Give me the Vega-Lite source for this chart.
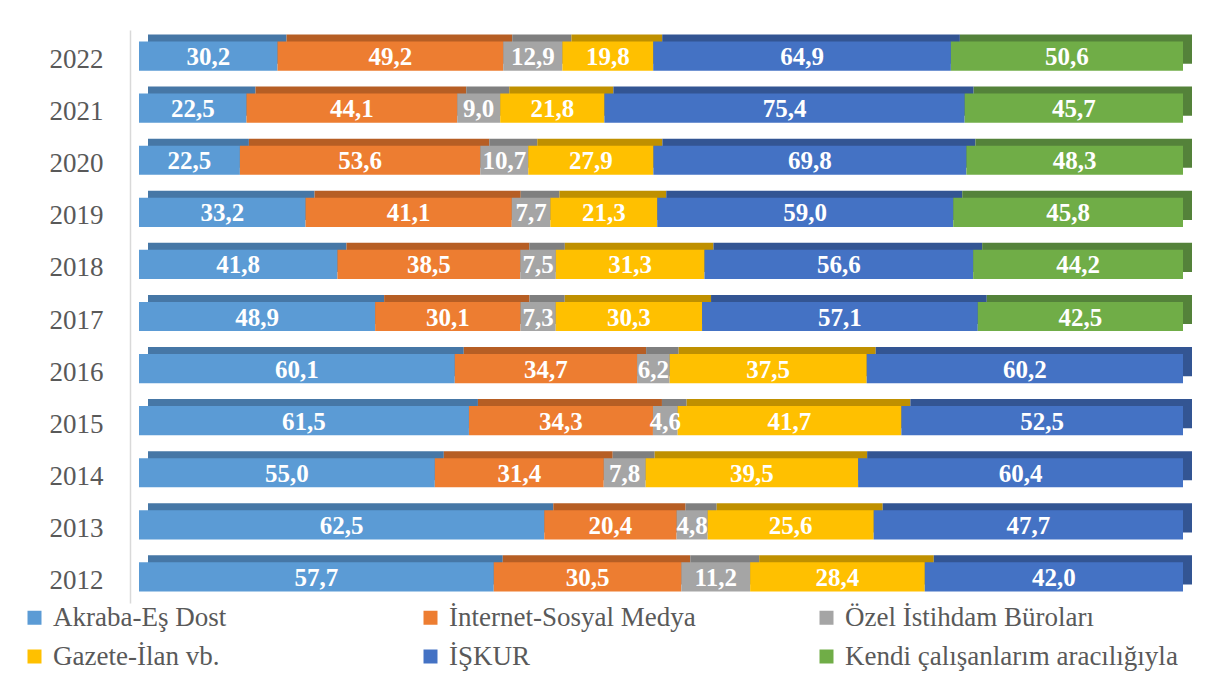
{
  "$schema": "https://vega.github.io/schema/vega-lite/v6.json",
  "width": 1044,
  "height": 573,
  "autosize": {"type": "none"},
  "padding": {"left": 139, "top": 30, "right": 40, "bottom": 70},
  "background": "white",
  "config": {"view": {"stroke": null}},
  "data": {"values": [
    {"year": "2022", "akraba": 30.2, "internet": 49.2, "ozel": 12.9, "gazete": 19.8, "iskur": 64.9, "kendi": 50.6},
    {"year": "2021", "akraba": 22.5, "internet": 44.1, "ozel": 9.0, "gazete": 21.8, "iskur": 75.4, "kendi": 45.7},
    {"year": "2020", "akraba": 22.5, "internet": 53.6, "ozel": 10.7, "gazete": 27.9, "iskur": 69.8, "kendi": 48.3},
    {"year": "2019", "akraba": 33.2, "internet": 41.1, "ozel": 7.7, "gazete": 21.3, "iskur": 59.0, "kendi": 45.8},
    {"year": "2018", "akraba": 41.8, "internet": 38.5, "ozel": 7.5, "gazete": 31.3, "iskur": 56.6, "kendi": 44.2},
    {"year": "2017", "akraba": 48.9, "internet": 30.1, "ozel": 7.3, "gazete": 30.3, "iskur": 57.1, "kendi": 42.5},
    {"year": "2016", "akraba": 60.1, "internet": 34.7, "ozel": 6.2, "gazete": 37.5, "iskur": 60.2},
    {"year": "2015", "akraba": 61.5, "internet": 34.3, "ozel": 4.6, "gazete": 41.7, "iskur": 52.5},
    {"year": "2014", "akraba": 55.0, "internet": 31.4, "ozel": 7.8, "gazete": 39.5, "iskur": 60.4},
    {"year": "2013", "akraba": 62.5, "internet": 20.4, "ozel": 4.8, "gazete": 25.6, "iskur": 47.7},
    {"year": "2012", "akraba": 57.7, "internet": 30.5, "ozel": 11.2, "gazete": 28.4, "iskur": 42.0}
  ]},
  "transform": [
    {"fold": ["akraba", "internet", "ozel", "gazete", "iskur", "kendi"], "as": ["key", "v"]},
    {"filter": "isValid(datum.v)"},
    {"calculate": "indexof(['akraba', 'internet', 'ozel', 'gazete', 'iskur', 'kendi'], datum.key)", "as": "k"},
    {"calculate": "['Akraba-Eş Dost', 'İnternet-Sosyal Medya', 'Özel İstihdam Büroları', 'Gazete-İlan vb.', 'İŞKUR', 'Kendi çalışanlarım aracılığıyla'][datum.k]", "as": "cat"},
    {"stack": "v", "groupby": ["year"], "sort": [{"field": "k", "order": "ascending"}], "offset": "normalize", "as": ["x0", "x1"]},
    {"calculate": "(datum.x0 + datum.x1) / 2", "as": "xm"},
    {"calculate": "replace(format(datum.v, '.1f'), '.', ',')", "as": "lbl"}
  ],
  "encoding": {
    "y": {
      "field": "year", "type": "ordinal", "sort": "descending",
      "scale": {"paddingInner": 0.44, "paddingOuter": 0.22},
      "axis": {"title": null, "domainColor": "#d9d9d9", "domainWidth": 1.5, "offset": 9, "ticks": false, "labelPadding": 27, "labelFont": "Liberation Serif, Times New Roman, serif", "labelFontSize": 27, "labelColor": "#595959", "labelOffset": 4}
    }
  },
  "layer": [
    {
      "mark": {"type": "bar", "xOffset": 9, "x2Offset": 9, "yOffset": -7, "y2Offset": -7},
      "encoding": {
        "x": {"field": "x0", "type": "quantitative", "scale": {"domain": [0, 1]}, "axis": null},
        "x2": {"field": "x1"},
        "color": {"field": "cat", "type": "nominal", "legend": null,
          "scale": {"domain": ["Akraba-Eş Dost", "İnternet-Sosyal Medya", "Özel İstihdam Büroları", "Gazete-İlan vb.", "İŞKUR", "Kendi çalışanlarım aracılığıyla"],
                    "range": ["#4677a6", "#b65e24", "#7f7f7f", "#bf9000", "#335593", "#54823a"]}}
      }
    },
    {
      "mark": {"type": "bar"},
      "encoding": {
        "x": {"field": "x0", "type": "quantitative", "scale": {"domain": [0, 1]}, "axis": null},
        "x2": {"field": "x1"},
        "color": {"field": "cat", "type": "nominal",
          "scale": {"domain": ["Akraba-Eş Dost", "İnternet-Sosyal Medya", "Özel İstihdam Büroları", "Gazete-İlan vb.", "İŞKUR", "Kendi çalışanlarım aracılığıyla"],
                    "range": ["#5b9bd5", "#ed7d31", "#a5a5a5", "#ffc000", "#4472c4", "#70ad47"]},
          "legend": {"title": null, "orient": "none", "legendX": -118, "legendY": 574, "direction": "horizontal", "columns": 3, "gridAlign": "all", "columnPadding": 31, "rowPadding": 11, "symbolType": "square", "symbolSize": 196, "symbolStrokeWidth": 0, "labelFont": "Liberation Serif, Times New Roman, serif", "labelFontSize": 27, "labelColor": "#595959", "labelOffset": 5, "labelLimit": 600}
        }
      }
    },
    {
      "mark": {"type": "text", "font": "Liberation Serif, Times New Roman, serif", "fontWeight": "bold", "fontSize": 25, "color": "white", "baseline": "middle", "align": "center", "dy": 1},
      "encoding": {
        "x": {"field": "xm", "type": "quantitative", "scale": {"domain": [0, 1]}},
        "text": {"field": "lbl"}
      }
    }
  ],
  "resolve": {"scale": {"color": "independent"}}
}
